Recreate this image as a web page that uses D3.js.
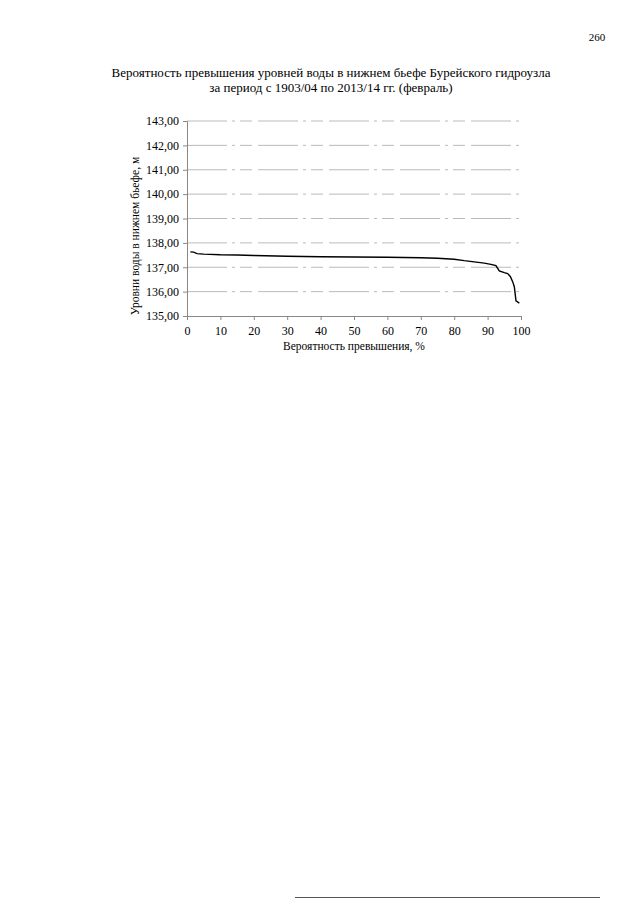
<!DOCTYPE html>
<html><head><meta charset="utf-8">
<script src="https://cdn.jsdelivr.net/npm/d3@7"></script>
<style>body{margin:0;background:#fff}svg{display:block}</style>
</head><body>
<script>
const titleLines = ["Вероятность превышения уровней воды в нижнем бьефе Бурейского гидроузла","за период с 1903/04 по 2013/14 гг. (февраль)"];
const yTicks = [135,136,137,138,139,140,141,142,143];
const xTicks = [0,10,20,30,40,50,60,70,80,90,100];
const probability = [1,2,3,5,10,15,20,30,40,50,60,70,75,80,83,86,89,91,92.5,93.5,95,96,96.8,97.5,98,98.5,99.5];
const level = [137.63,137.62,137.56,137.54,137.51,137.50,137.48,137.45,137.43,137.42,137.41,137.39,137.37,137.33,137.27,137.22,137.17,137.12,137.07,136.85,136.78,136.74,136.62,136.41,136.2,135.62,135.53];

const W=640,H=905;
const svg=d3.select("body").append("svg").attr("width",W).attr("height",H);
const font="'Liberation Serif','Times New Roman',serif";
svg.append("text").attr("x",597).attr("y",41).attr("text-anchor","middle").attr("font-family",font).attr("font-size",11).text("260");
svg.selectAll("text.t").data(titleLines).enter().append("text")
  .attr("x",331).attr("y",(d,i)=>77+i*15).attr("text-anchor","middle")
  .attr("font-family",font).attr("font-size",13).text(d=>d);

const x=d3.scaleLinear().domain([0,100]).range([187,521]);
const y=d3.scaleLinear().domain([135,143]).range([316,121]);

// gridlines
svg.append("g").selectAll("line").data(yTicks.filter(v=>v>135)).enter().append("line")
  .attr("x1",x(0)).attr("x2",x(100)).attr("y1",d=>y(d)).attr("y2",d=>y(d))
  .attr("stroke","#aaa").attr("stroke-width",0.8).attr("stroke-dasharray","40,5,3,5,12,6");

const ya=svg.append("g").attr("transform",`translate(${x(0)},0)`)
  .call(d3.axisLeft(y).tickValues(yTicks).tickSize(4).tickFormat(d=>d3.format(".2f")(d).replace(".",",")));
const xa=svg.append("g").attr("transform",`translate(0,${y(135)})`)
  .call(d3.axisBottom(x).tickValues(xTicks).tickSize(4).tickFormat(d3.format("d")));
[ya,xa].forEach(g=>{
  g.attr("font-family",font);
  g.select(".domain").attr("stroke","#888");
  g.selectAll(".tick line").attr("stroke","#888");
  g.selectAll("text").attr("font-family",font).attr("font-size",12).attr("fill","#000");
});
ya.selectAll("text").attr("x",-8);
xa.selectAll("text").attr("y",10);

svg.append("path").datum(probability.map((p,i)=>[p,level[i]]))
  .attr("d",d3.line().x(d=>x(d[0])).y(d=>y(d[1])))
  .attr("fill","none").attr("stroke","#000").attr("stroke-width",1.4);

svg.append("text").attr("x",354).attr("y",350).attr("text-anchor","middle")
  .attr("font-family",font).attr("font-size",11.5).text("Вероятность превышения, %");
svg.append("text").attr("transform","translate(139,236) rotate(-90)").attr("text-anchor","middle")
  .attr("font-family",font).attr("font-size",11.5).text("Уровни воды в нижнем бьефе, м");

// scan edge line at bottom
svg.append("line").attr("x1",295).attr("x2",600).attr("y1",897.5).attr("y2",897.5).attr("stroke","#555").attr("stroke-width",1);
</script>
</body></html>
